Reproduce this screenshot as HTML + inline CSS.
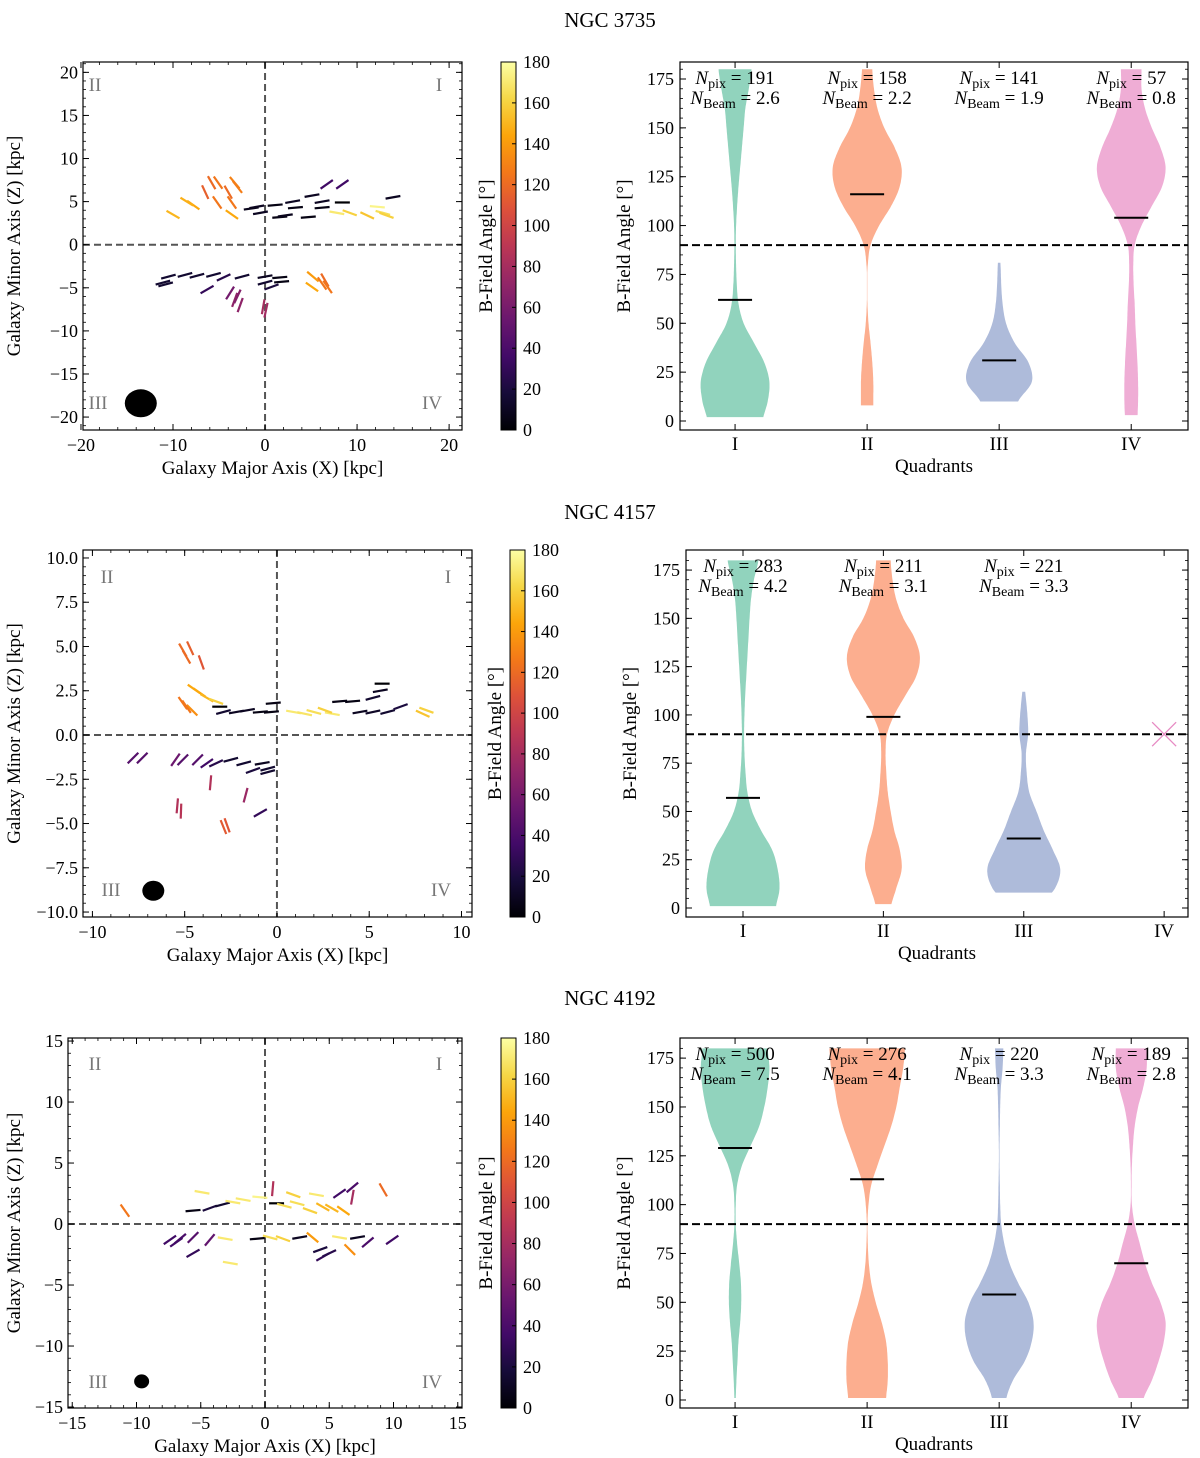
<!DOCTYPE html>
<html><head><meta charset="utf-8"><style>
body{margin:0;background:#fff}
svg{display:block;font-family:"Liberation Serif",serif}
</style></head><body>
<svg id="fig" width="1200" height="1458" viewBox="0 0 1200 1458" xmlns="http://www.w3.org/2000/svg"></svg>
<script>
// ---- data: B-field vector maps [x kpc, y kpc, angle deg] ----
const segs3735 = [[-10,3.5,150],[-7.8,4.6,145],[-5.8,7.2,120],[-5.1,7.2,125],[-3.3,7.2,130],[-6.5,6.1,115],[-4,6.1,120],[-5.2,4.9,125],[-3.6,4.9,125],[-3.6,3.5,145],[-8.5,5,148],[-3,6.7,128],
[-0.9,4.4,10],[-0.5,3.7,10],[1.1,4.6,5],[1.6,3.2,5],[3,5,10],[3.3,4.3,5],[5.1,5.7,10],[4.7,3.2,5],[6.2,5,10],[6.2,4.3,5],[8.4,4.9,0],[13.9,5.5,10],[-1.5,4.2,8],[2.2,3.4,8],
[6.7,7,35],[8.4,7,35],[7.8,3.7,170],[9.2,3.7,160],[11.1,3.4,155],[12.2,4.4,175],[12.8,3.7,165],[13.2,3.4,160],
[-11.1,-4.4,15],[-10.5,-3.7,15],[-8.7,-3.5,15],[-7.4,-3.6,15],[-5.6,-3.5,15],[-4.5,-3.8,25],[-2.5,-3.7,15],[0,-3.7,10],[1.6,-3.8,5],[0,-4.4,15],[0.7,-4.9,20],[-6.3,-5.2,30],[-10.8,-4.6,15],[1.8,-4.3,5],
[-3.8,-5.6,58],[-3.3,-6.4,70],[-2.7,-7,70],[-0.2,-7.2,80],[-3,-6,65],[0.1,-7.6,78],[5.2,-3.7,140],[6.5,-4.1,120],[6.8,-4.9,125],[5.1,-4.9,145],[6.2,-4.5,125]];
const segs4157 = [[-5.1,4.8,120],[-4.7,4.9,115],[-4.1,4.1,110],[-4.9,4.4,120],[-4.2,2.4,145],[-3.8,2.1,150],[-5.1,1.8,125],[-4.6,1.4,135],[-3.3,1.9,160],[-4.9,1.6,125],[-4.5,2.6,145],
[-2.9,1.3,15],[-1.6,1.4,10],[-0.9,1.3,5],[-0.2,1.8,5],[-3.1,1.6,0],[-2.2,1.3,10],[-0.3,1.3,5],[0.9,1.3,170],[2,1.3,165],[3,1.2,170],[1.5,1.2,168],[2.6,1.4,160],[8.1,1.4,160],[7.9,1.2,155],
[3.4,1.9,5],[4.1,1.9,5],[5.2,2.1,15],[5.6,2.5,10],[4.5,1.3,10],[6,1.3,15],[6.7,1.6,20],[5.7,2.9,0],[5.2,1.3,12],
[-7.8,-1.3,45],[-5.5,-1.4,55],[-5.1,-1.4,45],[-4.3,-1.4,45],[-3.8,-1.6,35],[-3.3,-1.6,25],[-2.5,-1.4,15],[-1.8,-1.6,15],[-0.8,-1.6,10],[-0.5,-1.9,15],[-1.3,-2,20],[-0.5,-2.1,15],[-7.3,-1.3,45],
[-3.6,-2.7,85],[-1.7,-3.4,75],[-5.4,-4,85],[-5.2,-4.3,88],[-2.9,-5.2,112],[-2.7,-5.1,110],[-0.9,-4.4,30]];
const segs4192 = [[-10.9,1.1,125],[-4.9,2.6,170],[-5.6,1.1,5],[-4.3,1.3,20],[-3.3,1.6,15],[-1.7,2,170],[-0.4,2.2,175],[0.6,2.9,85],[0.9,1.7,0],[2.2,2.4,160],[2.5,1.7,165],[4,2.4,170],[3.5,1.1,160],[4.5,1.4,150],[6.1,1.1,145],[5.8,2.5,35],[6.8,3,40],[6.8,2.2,80],[9.2,2.8,120],[-2.5,1.8,170],[1.5,1.5,165],[5.2,1.3,150],
[-7.4,-1.3,35],[-6.6,-1.2,40],[-5.6,-1.1,45],[-4.3,-1.3,50],[-5.6,-2.4,30],[-3.1,-1.2,170],[-0.6,-1.2,5],[0.4,-1.1,165],[1.4,-1.2,160],[2.7,-1.1,10],[3.7,-1.1,140],[5.8,-1.1,170],[7.2,-1.1,10],[4.3,-2.1,20],[4.5,-2.7,30],[6.6,-2.1,135],[8,-1.5,40],[9.9,-1.3,35],[-2.7,-3.2,170],[-6.9,-1.5,35],[5,-2.4,25]];
// ---- violin densities, sampled at 0,10,...,180 deg ----
const violinAngles = [0,10,20,30,40,50,60,70,80,90,100,110,120,130,140,150,160,170,180];
const v3735 = [
 [0.8,0.95,1.0,0.85,0.55,0.25,0.1,0.05,0.03,0.02,0.03,0.06,0.1,0.15,0.2,0.25,0.3,0.4,0.48],
 [0.18,0.18,0.18,0.15,0.1,0.04,0.01,0.0,0.02,0.1,0.35,0.7,0.95,1.0,0.8,0.5,0.3,0.2,0.15],
 [0.4,0.55,0.95,0.85,0.45,0.2,0.1,0.06,0.04,0,0,0,0,0,0,0,0,0,0],
 [0.18,0.2,0.2,0.18,0.15,0.12,0.1,0.07,0.06,0.1,0.3,0.6,0.9,1.0,0.85,0.6,0.4,0.3,0.3]];
const lo3735=[2,8,10,3], hi3735=[180,180,81,180], med3735=[62,116,31,104];
const npix3735=[191,158,141,57], nbeam3735=["2.6","2.2","1.9","0.8"];
const v4157 = [
 [0.9,1.0,0.95,0.8,0.5,0.25,0.12,0.07,0.04,0.03,0.04,0.06,0.09,0.12,0.15,0.18,0.22,0.3,0.42],
 [0.2,0.35,0.5,0.45,0.3,0.2,0.12,0.08,0.06,0.1,0.3,0.6,0.9,1.0,0.85,0.55,0.35,0.25,0.2],
 [0.4,0.85,1.0,0.8,0.55,0.35,0.15,0.08,0.06,0.12,0.1,0.05,0,0,0,0,0,0,0]];
const lo4157=[1,2,8], hi4157=[180,180,112], med4157=[57,99,36];
const npix4157=[283,211,221], nbeam4157=["4.2","3.1","3.3"];
const v4192 = [
 [0.02,0.04,0.07,0.1,0.15,0.18,0.17,0.12,0.06,0.02,0.02,0.06,0.2,0.45,0.7,0.85,0.95,1.0,0.95],
 [0.55,0.6,0.6,0.55,0.42,0.25,0.12,0.05,0.02,0.01,0.04,0.12,0.3,0.5,0.7,0.85,0.95,1.05,1.1],
 [0.2,0.4,0.75,0.95,1.0,0.85,0.55,0.3,0.15,0.06,0.03,0.02,0.01,0.01,0.02,0.03,0.05,0.1,0.12],
 [0.35,0.6,0.8,0.95,1.0,0.85,0.6,0.4,0.25,0.1,0.02,0.01,0.02,0.05,0.1,0.2,0.35,0.45,0.45]];
const lo4192=[1,1,1,1], hi4192=[180,180,180,180], med4192=[129,113,54,70];
const npix4192=[500,276,220,189], nbeam4192=["7.5","4.1","3.3","2.8"];
const quadLabels=["I","II","III","IV"];
const cbTicks=[0,20,40,60,80,100,120,140,160,180];
const vTicks=[0,25,50,75,100,125,150,175];

const NS="http://www.w3.org/2000/svg", svg=document.getElementById('fig');
function el(tag,attrs,parent,txt){const e=document.createElementNS(NS,tag);for(const k in attrs)e.setAttribute(k,attrs[k]);if(txt!==undefined)e.textContent=txt;(parent||svg).appendChild(e);return e;}
const stops=["#000004","#160b39","#420a68","#6a176e","#932667","#bc3754","#dd513a","#f37819","#fca50a","#f6d746","#fcffa4"];
function hx(c){return [1,3,5].map(i=>parseInt(c.substr(i,2),16));}
function inferno(t){t=Math.max(0,Math.min(1,t));const f=t*10,i=Math.min(9,Math.floor(f)),r=f-i;const a=hx(stops[i]),b=hx(stops[i+1]);return "rgb("+a.map((v,k)=>Math.round(v+(b[k]-v)*r)).join(",")+")";}
const vcols=["#66c2a5","#fc8d62","#8da0cb","#e78ac3"];
const vfill=["rgb(145,211,189)","rgb(252,174,143)","rgb(174,187,218)","rgb(239,173,213)"];
const FT=18, FL=19;

function ticksBox(g,x0,y0,x1,y1,xs,ys,sx,sy,xm,ym){
  for(const v of xs){const x=sx(v);el('line',{x1:x,x2:x,y1:y1,y2:y1-6,stroke:'#000','stroke-width':1},g);el('line',{x1:x,x2:x,y1:y0,y2:y0+6,stroke:'#000','stroke-width':1},g);}
  for(const v of ys){const y=sy(v);el('line',{x1:x0,x2:x0+6,y1:y,y2:y,stroke:'#000','stroke-width':1},g);el('line',{x1:x1,x2:x1-6,y1:y,y2:y,stroke:'#000','stroke-width':1},g);}
  for(const v of (xm||[])){const x=sx(v);el('line',{x1:x,x2:x,y1:y1,y2:y1-3,stroke:'#000','stroke-width':0.8},g);el('line',{x1:x,x2:x,y1:y0,y2:y0+3,stroke:'#000','stroke-width':0.8},g);}
  for(const v of (ym||[])){const y=sy(v);el('line',{x1:x0,x2:x0+3,y1:y,y2:y,stroke:'#000','stroke-width':0.8},g);el('line',{x1:x1,x2:x1-3,y1:y,y2:y,stroke:'#000','stroke-width':0.8},g);}
}
function range(a,b,s){const r=[];for(let v=a;v<=b+1e-9;v+=s)r.push(+v.toFixed(3));return r;}
function fmt(v,dec){const s=dec?v.toFixed(1):String(v);return s.replace('-','\u2212');}

function mapPanel(name,box,xr,yr,xt,yt,ydec,xmin,ymin,segs,beam,cbx,qpos){
  const [x0,y0,x1,y1]=box;
  const g=el('g',{});
  const sx=v=>x0+(v-xr[0])/(xr[1]-xr[0])*(x1-x0), sy=v=>y1-(v-yr[0])/(yr[1]-yr[0])*(y1-y0);
  el('line',{x1:sx(0),x2:sx(0),y1:y0,y2:y1,stroke:'#555','stroke-width':2,'stroke-dasharray':'7,4'},g);
  el('line',{x1:x0,x2:x1,y1:sy(0),y2:sy(0),stroke:'#555','stroke-width':2,'stroke-dasharray':'7,4'},g);
  const sg=el('g',{},g);
  for(const s of segs){const cx=sx(s[0]),cy=sy(s[1]),a=s[2]*Math.PI/180,L=7.5;
    const ln=el('line',{x1:cx-L*Math.cos(a),y1:cy+L*Math.sin(a),x2:cx+L*Math.cos(a),y2:cy-L*Math.sin(a),stroke:inferno(s[2]/180),'stroke-width':2.2},sg);
    }
  el('ellipse',{cx:sx(beam[0]),cy:sy(beam[1]),rx:beam[2],ry:beam[3],fill:'#000',},g);
  el('rect',{x:x0,y:y0,width:x1-x0,height:y1-y0,fill:'none',stroke:'#000','stroke-width':1.2,},g);
  ticksBox(g,x0,y0,x1,y1,xt,yt,sx,sy,xmin,ymin);
  for(const v of xt){el('text',{x:sx(v),y:y1+21,'font-size':FT,'text-anchor':'middle',},g,fmt(v,false));}
  for(const v of yt){el('text',{x:x0-5,y:sy(v)+6,'font-size':FT,'text-anchor':'end',},g,fmt(v,ydec));}
  const ql=["II","I","III","IV"];
  ql.forEach((t,i)=>el('text',{x:qpos[i][0],y:qpos[i][1]+6,'font-size':FL,fill:'#777','text-anchor':'middle',},g,t));
  el('text',{x:(x0+x1)/2,y:y1+44,'font-size':FL,'text-anchor':'middle',},g,'Galaxy Major Axis (X) [kpc]');
  el('text',{x:0,y:0,transform:`translate(20,${(y0+y1)/2}) rotate(-90)`,'font-size':FL,'text-anchor':'middle',},g,'Galaxy Minor Axis (Z) [kpc]');
  const cg=el('g',{});
  const id='cb'+name;const d=el('defs',{},cg);const lg=el('linearGradient',{id:id,x1:0,y1:1,x2:0,y2:0},d);
  for(let i=0;i<=10;i++)el('stop',{offset:i/10,'stop-color':stops[i]},lg);
  el('rect',{x:cbx,y:y0,width:15,height:y1-y0,fill:`url(#${id})`,stroke:'#000','stroke-width':1},cg);
  for(const v of cbTicks){const y=y1-v/180*(y1-y0);el('line',{x1:cbx+15,x2:cbx+11,y1:y,y2:y,stroke:'#000'},cg);
    el('text',{x:cbx+22,y:y+6,'font-size':FT,},cg,String(v));}
  el('text',{x:0,y:0,transform:`translate(${cbx-9},${(y0+y1)/2}) rotate(-90)`,'font-size':FL,'text-anchor':'middle',},cg,'B-Field Angle [°]');
}

function violinPanel(name,box,xr,yr,V,lo,hi,med,npix,nbeam,cross){
  const [x0,y0,x1,y1]=box;
  const g=el('g',{});
  const sx=v=>x0+(v-xr[0])/(xr[1]-xr[0])*(x1-x0), sy=v=>y1-(v-yr[0])/(yr[1]-yr[0])*(y1-y0);
  const W=0.26*(sx(2)-sx(1));
  const wAt=(arr,a)=>{const i=Math.min(17,Math.floor(a/10)),t=(a-violinAngles[i])/10;
    const p0=arr[Math.max(0,i-1)],p1=arr[i],p2=arr[i+1],p3=arr[Math.min(18,i+2)];
    const v=0.5*((2*p1)+(-p0+p2)*t+(2*p0-5*p1+4*p2-p3)*t*t+(-p0+3*p1-3*p2+p3)*t*t*t);return Math.max(0.005,v);};
  V.forEach((arr,k)=>{
    const cx=sx(k+1),pts=[];const as=[lo[k]];for(let a=Math.ceil(lo[k]);a<hi[k];a+=1)if(a>lo[k])as.push(a);as.push(hi[k]);
    for(const a of as)pts.push([cx+W*wAt(arr,a),sy(a)]);
    for(const a of as.slice().reverse())pts.push([cx-W*wAt(arr,a),sy(a)]);
    const p=el('polygon',{points:pts.map(p=>p[0].toFixed(1)+','+p[1].toFixed(1)).join(' '),fill:vfill[k]},g);
    
    const m=el('line',{x1:cx-17,x2:cx+17,y1:sy(med[k]),y2:sy(med[k]),stroke:'#000','stroke-width':2},g);
    
  });
  if(cross){const cx=sx(4),cy=sy(90);el('path',{d:`M${cx-12},${cy-12}L${cx+12},${cy+12}M${cx-12},${cy+12}L${cx+12},${cy-12}`,stroke:vcols[3],'stroke-width':1.3,fill:'none',},g);}
  el('line',{x1:x0,x2:x1,y1:sy(90),y2:sy(90),stroke:'#000','stroke-width':2,'stroke-dasharray':'8,4',},g);
  el('rect',{x:x0,y:y0,width:x1-x0,height:y1-y0,fill:'none',stroke:'#000','stroke-width':1.2,},g);
  ticksBox(g,x0,y0,x1,y1,[1,2,3,4],vTicks,sx,sy,[],range(0,180,5));
  quadLabels.forEach((q,k)=>el('text',{x:sx(k+1),y:y1+20,'font-size':FL,'text-anchor':'middle',},g,q));
  for(const v of vTicks)el('text',{x:x0-6,y:sy(v)+6,'font-size':FT,'text-anchor':'end',},g,String(v));
  npix.forEach((n,k)=>{const cx=sx(k+1);
    const t1=el('text',{x:cx,y:y0+22,'font-size':19,'text-anchor':'middle',},g);
    el('tspan',{'font-style':'italic'},t1,'N');el('tspan',{'font-size':14,dy:4},t1,'pix');el('tspan',{dy:-4},t1,' = '+n);
    const t2=el('text',{x:cx,y:y0+42,'font-size':19,'text-anchor':'middle',},g);
    el('tspan',{'font-style':'italic'},t2,'N');el('tspan',{'font-size':14,dy:4},t2,'Beam');el('tspan',{dy:-4},t2,' = '+nbeam[k]);});
  el('text',{x:(x0+x1)/2,y:y1+42,'font-size':FL,'text-anchor':'middle',},g,'Quadrants');
  el('text',{x:0,y:0,transform:`translate(${x0-50},${(y0+y1)/2}) rotate(-90)`,'font-size':FL,'text-anchor':'middle',},g,'B-Field Angle [°]');
}

const titles=[["NGC 3735",27],["NGC 4157",519],["NGC 4192",1005]];
for(const t of titles)el('text',{x:610,y:t[1],'font-size':21,'text-anchor':'middle',},svg,t[0]);

mapPanel('ngc3735',[83,62,462,430],[-19.78,21.4],[-21.5,21.2],[-20,-10,0,10,20],range(-20,20,5),false,range(-18,20,2),range(-21,21,1),segs3735,[-13.5,-18.4,16,14],501,[[95,85],[439,85],[98,403],[432,403]]);
mapPanel('ngc4157',[83,550,472,917],[-10.51,10.57],[-10.28,10.45],[-10,-5,0,5,10],range(-10,10,2.5),true,range(-10,10,1),range(-10,10,0.5),segs4157,[-6.7,-8.8,11,10],510,[[107,577],[448,577],[111,890],[441,890]]);
mapPanel('ngc4192',[68,1038,462,1408],[-15.33,15.33],[-15.08,15.25],[-15,-10,-5,0,5,10,15],range(-15,15,5),false,range(-15,15,1),range(-15,15,1),segs4192,[-9.6,-12.9,7.5,7],501,[[95,1064],[439,1064],[98,1382],[432,1382]]);

violinPanel('ngc3735',[680,62,1188,430],[0.583,4.43],[-4.6,183.7],v3735,lo3735,hi3735,med3735,npix3735,nbeam3735,false);
violinPanel('ngc4157',[686,550,1188,917],[0.594,4.17],[-4.66,185.4],v4157,lo4157,hi4157,med4157,npix4157,nbeam4157,true);
violinPanel('ngc4192',[680,1038,1188,1408],[0.583,4.43],[-4.1,185.3],v4192,lo4192,hi4192,med4192,npix4192,nbeam4192,false);
</script>
</body></html>
